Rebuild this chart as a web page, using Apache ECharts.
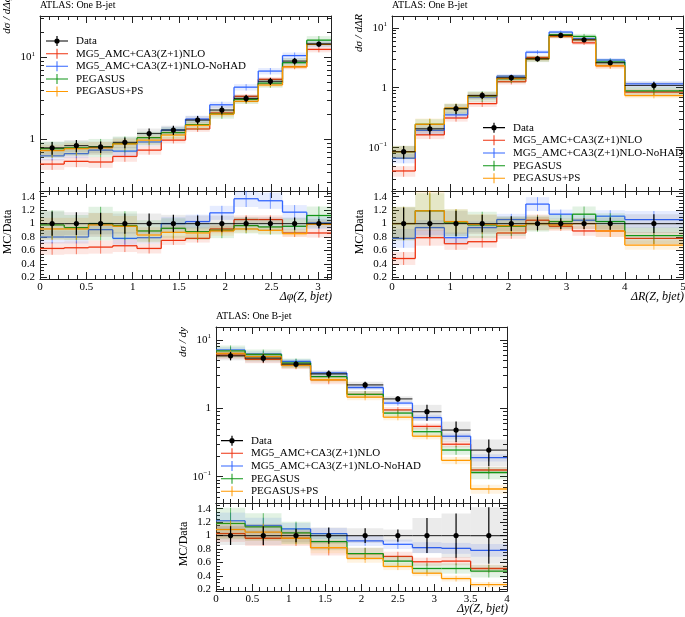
<!DOCTYPE html>
<html>
<head>
<meta charset="utf-8">
<script src="https://cdn.jsdelivr.net/npm/echarts@6/dist/echarts.min.js"></script>
<style>
html, body { margin: 0; padding: 0; background: #fff; }
#main { width: 685px; height: 617px; }
</style>
</head>
<body>
<div id="main"></div>
<script>
// ---- series names ----
var nameData = 'Data';
var nameNLO = 'MG5_AMC+CA3(Z+1)NLO';
var nameNoHAD = 'MG5_AMC+CA3(Z+1)NLO-NoHAD';
var namePeg = 'PEGASUS';
var namePegPS = 'PEGASUS+PS';

// ---- delta phi ----
var dphiEdges = [0, 0.2618, 0.5236, 0.7854, 1.0472, 1.309, 1.5708, 1.8326, 2.0944, 2.3562, 2.618, 2.8798, 3.1416];
var dphiData = [0.79, 0.84, 0.81, 0.92, 1.18, 1.30, 1.72, 2.28, 3.16, 5.1, 9.0, 14.5];
var dphiDataErr = [0.18, 0.17, 0.16, 0.15, 0.15, 0.13, 0.12, 0.12, 0.10, 0.10, 0.09, 0.07];
var dphiNLO = [0.50, 0.54, 0.53, 0.62, 0.74, 0.98, 1.34, 2.10, 3.35, 5.4, 7.7, 12.5];
var dphiNoHAD = [0.63, 0.67, 0.74, 0.72, 0.93, 1.30, 1.77, 2.64, 4.33, 6.8, 10.5, 14.6];
var dphiPeg = [0.77, 0.79, 0.81, 0.89, 1.05, 1.21, 1.51, 2.05, 3.07, 4.85, 8.6, 16.2];
var dphiPegPS = [0.73, 0.77, 0.79, 0.88, 0.98, 1.13, 1.48, 2.03, 2.91, 4.6, 7.65, 14.4];
var dphiNLORatio = [0.63, 0.64, 0.65, 0.67, 0.63, 0.75, 0.78, 0.92, 1.06, 1.06, 0.86, 0.86];
var dphiNoHADRatio = [0.80, 0.80, 0.91, 0.78, 0.79, 1.00, 1.03, 1.16, 1.37, 1.34, 1.17, 1.01];
var dphiPegRatio = [0.98, 0.94, 1.00, 0.97, 0.89, 0.93, 0.88, 0.90, 0.97, 0.95, 0.96, 1.12];
var dphiPegPSRatio = [0.92, 0.92, 0.98, 0.96, 0.83, 0.87, 0.86, 0.89, 0.92, 0.90, 0.85, 0.99];
var dphiNLOBand = [0.15, 0.15, 0.15, 0.14, 0.12, 0.09, 0.08, 0.07, 0.06, 0.06, 0.07, 0.08];
var dphiNoHADBand = [0.12, 0.12, 0.12, 0.12, 0.11, 0.10, 0.10, 0.09, 0.09, 0.09, 0.09, 0.09];
var dphiPegBand = [0.22, 0.20, 0.25, 0.22, 0.18, 0.16, 0.14, 0.13, 0.12, 0.12, 0.12, 0.12];
var dphiPegPSBand = [0.18, 0.18, 0.18, 0.16, 0.14, 0.12, 0.10, 0.08, 0.06, 0.06, 0.05, 0.05];

// ---- delta R ----
var dREdges = [0, 0.4, 0.9, 1.3, 1.8, 2.3, 2.7, 3.1, 3.5, 4.0, 5.0];
var dRData = [0.086, 0.207, 0.447, 0.744, 1.47, 3.04, 7.44, 6.3, 2.61, 1.09];
var dRDataErr = [0.24, 0.20, 0.19, 0.13, 0.11, 0.10, 0.08, 0.08, 0.09, 0.14];
var dRNLO = [0.041, 0.164, 0.313, 0.543, 1.26, 3.19, 7.14, 5.6, 2.32, 0.85];
var dRNoHAD = [0.067, 0.195, 0.353, 0.70, 1.56, 3.92, 8.48, 6.6, 2.9, 1.16];
var dRPeg = [0.086, 0.246, 0.451, 0.729, 1.41, 3.04, 7.66, 7.18, 2.69, 0.89];
var dRPegPS = [0.086, 0.246, 0.46, 0.737, 1.43, 3.04, 7.29, 6.3, 2.32, 0.74];
var dRNLORatio = [0.48, 0.79, 0.70, 0.73, 0.86, 1.05, 0.96, 0.89, 0.89, 0.78];
var dRNoHADRatio = [0.78, 0.94, 0.79, 0.94, 1.06, 1.29, 1.14, 1.05, 1.11, 1.06];
var dRPegRatio = [1.00, 1.19, 1.01, 0.98, 0.96, 1.00, 1.03, 1.14, 1.03, 0.82];
var dRPegPSRatio = [1.00, 1.19, 1.03, 0.99, 0.97, 1.00, 0.98, 1.00, 0.89, 0.68];
var dRNLOBand = [0.20, 0.15, 0.13, 0.12, 0.10, 0.08, 0.07, 0.08, 0.10, 0.12];
var dRNoHADBand = [0.18, 0.12, 0.10, 0.10, 0.08, 0.08, 0.06, 0.07, 0.08, 0.12];
var dRPegBand = [0.25, 0.22, 0.20, 0.20, 0.15, 0.12, 0.10, 0.10, 0.12, 0.15];
var dRPegPSBand = [0.25, 0.25, 0.18, 0.15, 0.12, 0.10, 0.08, 0.08, 0.10, 0.10];

// ---- delta y ----
var dyEdges = [0, 0.4, 0.9, 1.3, 1.8, 2.3, 2.7, 3.1, 3.5, 4.0];
var dyData = [5.83, 5.4, 4.41, 3.18, 2.19, 1.37, 0.89, 0.48, 0.245];
var dyDataErr = [0.14, 0.14, 0.10, 0.12, 0.11, 0.09, 0.26, 0.33, 0.42];
var dyNLO = [6.0, 5.18, 4.23, 2.61, 1.60, 0.945, 0.543, 0.298, 0.125];
var dyNoHAD = [7.11, 6.21, 4.85, 3.28, 2.01, 1.19, 0.73, 0.39, 0.19];
var dyPeg = [6.88, 6.10, 4.59, 2.89, 1.60, 0.85, 0.454, 0.245, 0.115];
var dyPegPS = [6.35, 5.67, 4.23, 2.61, 1.45, 0.74, 0.39, 0.173, 0.066];
var dyNLORatio = [1.03, 0.96, 0.96, 0.82, 0.73, 0.69, 0.61, 0.62, 0.51];
var dyNoHADRatio = [1.22, 1.15, 1.10, 1.03, 0.92, 0.87, 0.82, 0.81, 0.78];
var dyPegRatio = [1.18, 1.13, 1.04, 0.91, 0.73, 0.62, 0.51, 0.51, 0.47];
var dyPegPSRatio = [1.09, 1.05, 0.96, 0.82, 0.66, 0.54, 0.44, 0.36, 0.27];
var dyNLOBand = [0.12, 0.12, 0.12, 0.14, 0.12, 0.10, 0.10, 0.10, 0.12];
var dyNoHADBand = [0.10, 0.10, 0.08, 0.08, 0.08, 0.08, 0.10, 0.10, 0.12];
var dyPegBand = [0.20, 0.18, 0.16, 0.14, 0.12, 0.12, 0.15, 0.15, 0.20];
var dyPegPSBand = [0.12, 0.12, 0.10, 0.10, 0.10, 0.10, 0.10, 0.12, 0.15];

// ---- tick labels ----
var dphiXTicks = [0, 0.5, 1, 1.5, 2, 2.5, 3];
var dRXTicks = [0, 1, 2, 3, 4, 5];
var dyXTicks = [0, 0.5, 1, 1.5, 2, 2.5, 3, 3.5, 4];
var ratioTicks = [0.2, 0.4, 0.6, 0.8, 1, 1.2, 1.4];
var logTicks = [0.1, 1, 10];

var FONT = 'Liberation Serif';
var INK = '#222';
var colNLO = '#EE3311', colNoHAD = '#3366FF', colPeg = '#109618', colPegPS = '#FF9900';

function minorList(from, to, step, majors) {
    var out = [];
    for (var v = from; v <= to + 1e-9; v += step) {
        var r = Math.round(v * 1000) / 1000;
        if (majors.indexOf(r) < 0) out.push(r);
    }
    return out;
}
function logMinors() {
    var out = [];
    [0.01, 0.1, 1, 10].forEach(function (d) {
        for (var k = 2; k <= 9; k++) out.push(Math.round(k * d * 1000) / 1000);
    });
    return out;
}
function logLabel(v) {
    if (Math.abs(v - 10) < 1e-6) return '10{s|1}';
    if (Math.abs(v - 1) < 1e-6) return '1';
    if (Math.abs(v - 0.1) < 1e-6) return '10{s|\u22121}';
    return '';
}

var grids = [], xAxis = [], yAxis = [], series = [], graphic = [], titles = [], legends = [];

function axis(list, o) {
    var ax = {
        type: o.type || 'value', gridIndex: o.grid, min: o.min, max: o.max, position: o.pos,
        axisLine: { show: !!o.line, onZero: false, lineStyle: { color: INK, width: 1 } },
        axisTick: { show: true, inside: true, length: o.len, customValues: o.ticks, lineStyle: { color: INK, width: 1 } },
        axisLabel: { show: false },
        splitLine: { show: false },
        minorTick: { show: false },
        silent: true
    };
    if (o.type === 'log') ax.logBase = 10;
    if (o.labels) {
        ax.axisLabel = {
            show: true, customValues: o.labels, formatter: o.formatter,
            fontFamily: FONT, fontSize: 11, color: '#000', margin: o.margin,
            rich: { s: { fontFamily: FONT, fontSize: 7, padding: [0, 0, 7, 0] } }
        };
    }
    list.push(ax);
    return list.length - 1;
}

// four framed sides with major and minor ticks; returns primary axes
function frame(gi, xr, xMaj, xMin, yType, yr, yMaj, yMin, yLab, xLabels) {
    var xi = axis(xAxis, { grid: gi, min: xr[0], max: xr[1], pos: 'bottom', line: true, len: 7, ticks: xMaj,
        labels: xLabels ? xMaj : null, margin: 3 });
    axis(xAxis, { grid: gi, min: xr[0], max: xr[1], pos: 'bottom', len: 4, ticks: xMin });
    axis(xAxis, { grid: gi, min: xr[0], max: xr[1], pos: 'top', line: true, len: 7, ticks: xMaj });
    axis(xAxis, { grid: gi, min: xr[0], max: xr[1], pos: 'top', len: 4, ticks: xMin });
    var yi = axis(yAxis, { grid: gi, type: yType, min: yr[0], max: yr[1], pos: 'left', line: true, len: 7, ticks: yMaj,
        labels: yMaj, formatter: yLab, margin: 5 });
    axis(yAxis, { grid: gi, type: yType, min: yr[0], max: yr[1], pos: 'left', len: 4, ticks: yMin });
    axis(yAxis, { grid: gi, type: yType, min: yr[0], max: yr[1], pos: 'right', line: true, len: 7, ticks: yMaj });
    axis(yAxis, { grid: gi, type: yType, min: yr[0], max: yr[1], pos: 'right', len: 4, ticks: yMin });
    return [xi, yi];
}

function histRender(color) {
    return function (params, api) {
        var x0 = api.value(0), x1 = api.value(1), y = api.value(2);
        var lo = api.value(3), hi = api.value(4), prev = api.value(5);
        var a = api.coord([x0, y]), b = api.coord([x1, y]);
        var bl = api.coord([x0, lo]), bh = api.coord([x1, hi]);
        var xm = api.coord([(x0 + x1) / 2, y])[0];
        var kids = [
            { type: 'rect', shape: { x: bl[0], y: bh[1], width: bh[0] - bl[0], height: bl[1] - bh[1] },
              style: { fill: color, opacity: 0.12 } },
            { type: 'line', shape: { x1: xm, y1: bh[1], x2: xm, y2: bl[1] },
              style: { stroke: color, lineWidth: 1, opacity: 0.6 } },
            { type: 'line', shape: { x1: a[0], y1: a[1], x2: b[0], y2: b[1] },
              style: { stroke: color, lineWidth: 1.3 } }
        ];
        if (prev > 0) {
            var p = api.coord([x0, prev]);
            kids.push({ type: 'line', shape: { x1: a[0], y1: p[1], x2: a[0], y2: a[1] },
                style: { stroke: color, lineWidth: 1.3 } });
        }
        return { type: 'group', children: kids };
    };
}

function dataRender(params, api) {
    var x0 = api.value(0), x1 = api.value(1), y = api.value(2), lo = api.value(3), hi = api.value(4);
    var a = api.coord([x0, y]), b = api.coord([x1, y]);
    var bl = api.coord([x0, lo]), bh = api.coord([x1, hi]);
    var xm = (a[0] + b[0]) / 2;
    return { type: 'group', children: [
        { type: 'rect', shape: { x: bl[0], y: bh[1], width: bh[0] - bl[0], height: bl[1] - bh[1] },
          style: { fill: '#000', opacity: 0.08 } },
        { type: 'line', shape: { x1: a[0], y1: a[1], x2: b[0], y2: b[1] }, style: { stroke: '#000', lineWidth: 1.2, opacity: 0.75 } },
        { type: 'line', shape: { x1: xm, y1: bh[1], x2: xm, y2: bl[1] }, style: { stroke: '#000', lineWidth: 1.2 } },
        { type: 'circle', shape: { cx: xm, cy: a[1], r: 2.6 }, style: { fill: '#000' } }
    ] };
}

function histItems(edges, vals, band) {
    return vals.map(function (v, i) {
        return [edges[i], edges[i + 1], v, v * (1 - band[i]), v * (1 + band[i]), i > 0 ? vals[i - 1] : -1];
    });
}
function dataItems(edges, vals, err) {
    return vals.map(function (v, i) {
        return [edges[i], edges[i + 1], v, v * (1 - err[i]), v * (1 + err[i])];
    });
}

function addSeries(ax, name, color, items, render) {
    series.push({
        type: 'custom', name: name, xAxisIndex: ax[0], yAxisIndex: ax[1], clip: true, silent: true,
        itemStyle: { color: color }, encode: { x: [0, 1], y: [2] },
        renderItem: render, data: items
    });
}

var panels = [
    { edges: dphiEdges, data: dphiData, err: dphiDataErr,
      models: [dphiNLO, dphiNoHAD, dphiPeg, dphiPegPS],
      ratios: [dphiNLORatio, dphiNoHADRatio, dphiPegRatio, dphiPegPSRatio],
      bands: [dphiNLOBand, dphiNoHADBand, dphiPegBand, dphiPegPSBand],
      xr: [0, 3.1416], xMaj: dphiXTicks, xStep: 0.1, logR: [0.235, 31.9],
      left: 40, top: 16, w: 291, mainH: 175, ratioH: 88,
      yName: 'd\u03c3 / d\u0394\u03c6', yNameY: 15, xName: '\u0394\u03c6(Z, bjet)',
      legLeft: 46, legTop: 35.5 },
    { edges: dREdges, data: dRData, err: dRDataErr,
      models: [dRNLO, dRNoHAD, dRPeg, dRPegPS],
      ratios: [dRNLORatio, dRNoHADRatio, dRPegRatio, dRPegPSRatio],
      bands: [dRNLOBand, dRNoHADBand, dRPegBand, dRPegPSBand],
      xr: [0, 5], xMaj: dRXTicks, xStep: 0.2, logR: [0.019, 15.7],
      left: 392, top: 16, w: 291, mainH: 175, ratioH: 88,
      yName: 'd\u03c3 / d\u0394R', yNameY: 33, xName: '\u0394R(Z, bjet)',
      legLeft: 483, legTop: 122.2 },
    { edges: dyEdges, data: dyData, err: dyDataErr,
      models: [dyNLO, dyNoHAD, dyPeg, dyPegPS],
      ratios: [dyNLORatio, dyNoHADRatio, dyPegRatio, dyPegPSRatio],
      bands: [dyNLOBand, dyNoHADBand, dyPegBand, dyPegPSBand],
      xr: [0, 4], xMaj: dyXTicks, xStep: 0.1, logR: [0.0412, 15.4],
      left: 216, top: 327, w: 291, mainH: 176, ratioH: 88,
      yName: 'd\u03c3 / dy', yNameY: 342, xName: '\u0394y(Z, bjet)',
      legLeft: 221, legTop: 435.2 }
];
var modelNames = [nameNLO, nameNoHAD, namePeg, namePegPS];
var modelCols = [colNLO, colNoHAD, colPeg, colPegPS];
var ratioMinors = minorList(0.2, 1.45, 0.05, ratioTicks);
var logMin = logMinors();

var iconLine = 'path://M0,4.5L22,4.5L22,5.5L0,5.5Z M10.5,0L11.5,0L11.5,10L10.5,10Z';
var iconData = 'path://M0,4.4L22,4.4L22,5.6L0,5.6Z M10.4,0L11.6,0L11.6,10L10.4,10Z M13.6,5A2.6,2.6,0,1,1,8.4,5A2.6,2.6,0,1,1,13.6,5Z';

panels.forEach(function (p) {
    var xMin = minorList(p.xr[0], p.xr[1], p.xStep, p.xMaj);
    grids.push({ left: p.left, top: p.top, width: p.w, height: p.mainH, outerBoundsMode: 'none', containLabel: false });
    var gMain = grids.length - 1;
    grids.push({ left: p.left, top: p.top + p.mainH, width: p.w, height: p.ratioH, outerBoundsMode: 'none', containLabel: false });
    var gRatio = grids.length - 1;

    var axMain = frame(gMain, p.xr, p.xMaj, xMin, 'log', p.logR, logTicks, logMin, logLabel, false);
    var axRatio = frame(gRatio, p.xr, p.xMaj, xMin, 'value', [0.175, 1.485], ratioTicks, ratioMinors, null, true);

    var ones = p.data.map(function () { return 1; });
    for (var m = 0; m < 4; m++) {
        addSeries(axMain, modelNames[m], modelCols[m], histItems(p.edges, p.models[m], p.bands[m]), histRender(modelCols[m]));
        addSeries(axRatio, modelNames[m], modelCols[m], histItems(p.edges, p.ratios[m], p.bands[m]), histRender(modelCols[m]));
    }
    addSeries(axMain, nameData, '#000', dataItems(p.edges, p.data, p.err), dataRender);
    addSeries(axRatio, nameData, '#000', dataItems(p.edges, ones, p.err), dataRender);

    titles.push({ text: 'ATLAS: One B-jet', left: p.left, top: p.top - 16, padding: 0,
        textStyle: { fontFamily: FONT, fontSize: 10, fontWeight: 'normal', color: '#000' } });

    graphic.push({ type: 'text', x: p.left - 33, y: p.yNameY, rotation: Math.PI / 2, silent: true,
        style: { text: p.yName, font: 'italic 11px "' + FONT + '"', fill: '#000', align: 'center', verticalAlign: 'middle' } });
    graphic.push({ type: 'text', x: p.left - 32, y: p.top + p.mainH + p.ratioH / 2 - 3, rotation: Math.PI / 2, silent: true,
        style: { text: 'MC/Data', font: '12px "' + FONT + '"', fill: '#000', align: 'center', verticalAlign: 'middle' } });
    graphic.push({ type: 'text', x: p.left + p.w + 1, y: p.top + p.mainH + p.ratioH + 18, silent: true,
        style: { text: p.xName, font: 'italic 12px "' + FONT + '"', fill: '#000', align: 'right', verticalAlign: 'middle' } });

    legends.push({
        orient: 'vertical', left: p.legLeft, top: p.legTop, padding: 0, itemGap: 1.65,
        itemWidth: 22, itemHeight: 10, selectedMode: false,
        textStyle: { fontFamily: FONT, fontSize: 11, color: '#000', padding: [0, 0, 0, 3] },
        data: [
            { name: nameData, icon: iconData },
            { name: nameNLO, icon: iconLine },
            { name: nameNoHAD, icon: iconLine },
            { name: namePeg, icon: iconLine },
            { name: namePegPS, icon: iconLine }
        ]
    });
});

var chart = echarts.init(document.getElementById('main'));
chart.setOption({
    animation: false,
    backgroundColor: '#fff',
    title: titles,
    legend: legends,
    grid: grids,
    xAxis: xAxis,
    yAxis: yAxis,
    graphic: graphic,
    series: series
});
</script>
</body>
</html>
